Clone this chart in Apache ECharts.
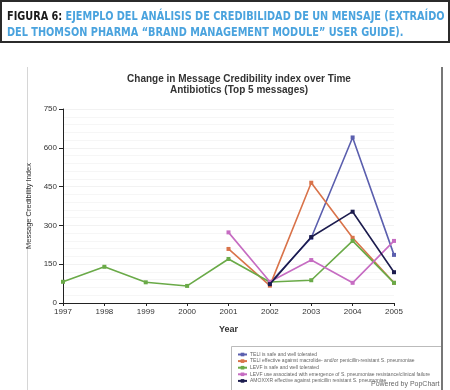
<!DOCTYPE html>
<html><head><meta charset="utf-8">
<script src="https://cdn.jsdelivr.net/npm/echarts@6/dist/echarts.min.js"></script>
<style>html,body{margin:0;padding:0;background:#fff}#c{width:450px;height:390px}</style>
</head><body><div id="c"></div>
<script>
const years = ['1997','1998','1999','2000','2001','2002','2003','2004','2005'];
const seriesNames = [
  'TELI is safe and well tolerated',
  'TELI effective against macrolide- and/or penicillin-resistant S. pneumoniae',
  'LEVF is safe and well tolerated',
  'LEVF use associated with emergence of S. pneumoniae resistance/clinical failure',
  'AMOX/XR effective against penicillin resistant S. pneumoniae'
];
const teliSafe      = [null, null, null, null, null, 77, 252, 640, 186];
const teliEffective = [null, null, null, null, 209, 67, 465, 252, 78];
const levfSafe      = [82, 140, 80, 66, 170, 81, 88, 240, 78];
const levfResist    = [null, null, null, null, 273, 82, 166, 78, 240];
const amoxEffective = [null, null, null, null, null, 73, 255, 353, 119];
const yTicks = [0, 150, 300, 450, 600, 750];
const colors = ['#5b5fae', '#d9734a', '#6aaa48', '#c66cc2', '#1c1c4e'];

const chart = echarts.init(document.getElementById('c'));
const mk = (name, data, i) => ({
  name, type: 'line', data, connectNulls: false,
  symbol: 'rect', symbolSize: 4, showSymbol: true,
  lineStyle: {width: 1.6, color: colors[i]}, itemStyle: {color: colors[i]},
  z: 2 + i
});
chart.setOption({
  animation: false,
  color: colors,
  title: {
    text: 'Change in Message Credibility index over Time\nAntibiotics (Top 5 messages)',
    left: 234, top: 69, textAlign: 'center',
    textStyle: {fontSize: 10, fontWeight: 'bold', color: '#333', lineHeight: 11, fontFamily: 'Liberation Sans'}
  },
  grid: {left: 63, right: 56, top: 109, bottom: 87},
  xAxis: {
    type: 'category', data: years, boundaryGap: false,
    name: 'Year', nameLocation: 'middle', nameGap: 22,
    nameTextStyle: {fontSize: 9, fontWeight: 'bold', color: '#333', fontFamily: 'Liberation Sans'},
    axisLine: {lineStyle: {color: '#222', width: 1}},
    axisTick: {length: 3, lineStyle: {color: '#222'}},
    axisLabel: {fontSize: 8, color: '#333', margin: 5, fontFamily: 'Liberation Sans'},
    splitLine: {show: false}
  },
  yAxis: {
    type: 'value', min: 0, max: 750, interval: 150,
    name: 'Message Credibility Index', nameLocation: 'middle', nameGap: 30, nameRotate: 90,
    nameTextStyle: {fontSize: 7.5, color: '#333', fontFamily: 'Liberation Sans'},
    axisLine: {show: true, lineStyle: {color: '#222', width: 1}},
    axisTick: {show: true, length: 4, lineStyle: {color: '#222'}},
    axisLabel: {fontSize: 8, color: '#333', margin: 6, fontFamily: 'Liberation Sans',
      formatter: v => yTicks.includes(v) ? String(v) : ''},
    splitLine: {show: true, lineStyle: {color: '#f2f2f2', width: 1}},
    minorTick: {show: false},
    minorSplitLine: {show: true, lineStyle: {color: '#f6f6f6'}}
  },
  legend: {
    orient: 'vertical', left: 232, top: 347, itemGap: 1.6,
    itemWidth: 9, itemHeight: 4.5,
    textStyle: {fontSize: 5, color: '#666', padding: [0,0,0,-2], width: 195, overflow: 'truncate', ellipsis: ''},
    data: seriesNames
  },
  graphic: [
    {type: 'rect', shape: {x: 1, y: 1, width: 448, height: 41}, style: {fill: '#fff', stroke: '#2b2b2b', lineWidth: 2}},
    {type: 'text', x: 7, y: 9, scaleX: 0.865, style: {
      rich: {k: {fill: '#1b1b1b', fontSize: 12.5, fontWeight: 'bold', fontFamily: 'DejaVu Sans Condensed'},
             b: {fill: '#4aa3de', fontSize: 12.5, fontWeight: 'bold', fontFamily: 'DejaVu Sans Condensed'}},
      text: '{k|FIGURA 6: }{b|EJEMPLO DEL ANÁLISIS DE CREDIBILIDAD DE UN MENSAJE (EXTRAÍDO}\n{b|DEL THOMSON PHARMA “BRAND MANAGEMENT MODULE” USER GUIDE).}',
      lineHeight: 16
    }},
    {type: 'line', shape: {x1: 27.5, y1: 67, x2: 27.5, y2: 390}, style: {stroke: '#d6d6d6', lineWidth: 1}},
    {type: 'line', shape: {x1: 442, y1: 67, x2: 442, y2: 390}, style: {stroke: '#777', lineWidth: 2}},
    {type: 'polyline', shape: {points: [[231.5, 390], [231.5, 346.5], [441, 346.5]]}, style: {stroke: '#bbb', fill: null, lineWidth: 1}},
    {type: 'text', x: 371, y: 381, z: 100, style: {text: 'Powered by PopChart', fill: '#666', fontSize: 7, fontFamily: 'Liberation Sans'}}
  ],
  series: [
    mk(seriesNames[0], teliSafe, 0),
    mk(seriesNames[1], teliEffective, 1),
    mk(seriesNames[2], levfSafe, 2),
    mk(seriesNames[3], levfResist, 3),
    mk(seriesNames[4], amoxEffective, 4)
  ]
});
</script></body></html>
